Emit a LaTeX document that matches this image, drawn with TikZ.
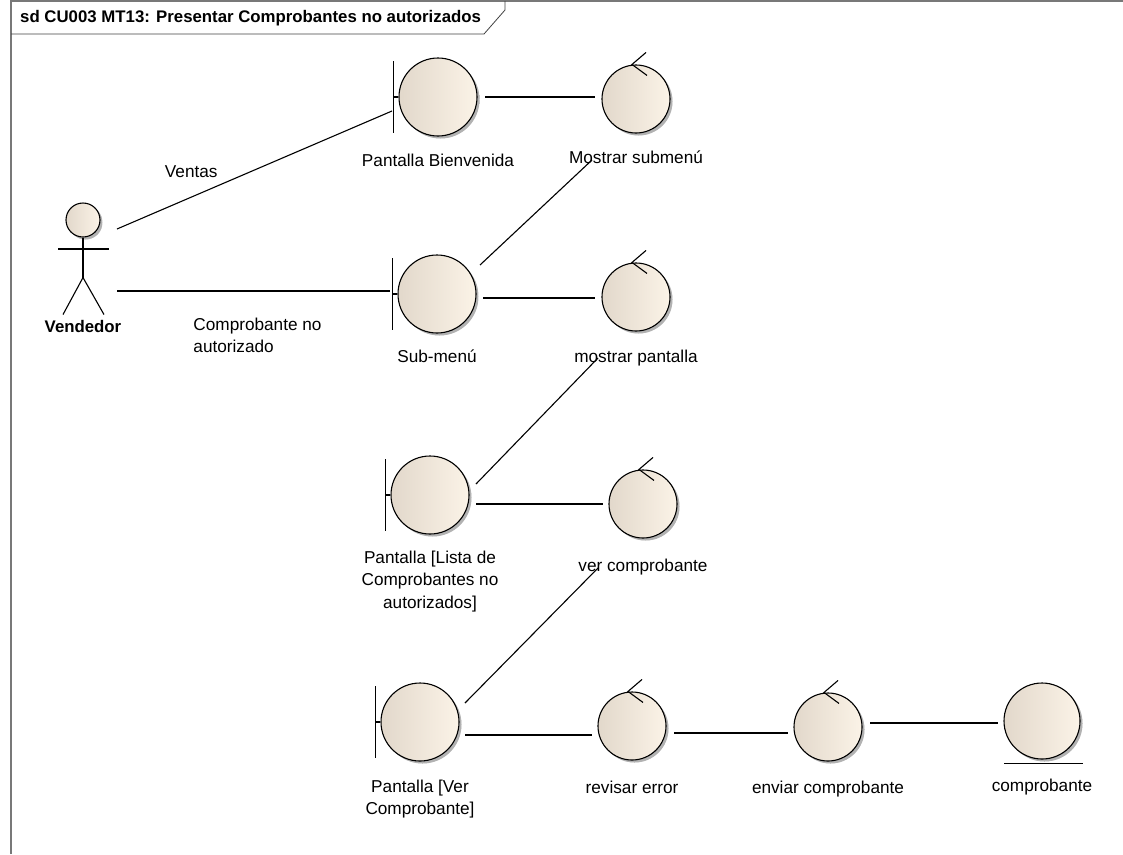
\documentclass[tikz,border=0pt]{standalone}
\usepackage{fontspec}
\setmainfont{Liberation Sans}
\usepackage{xcolor}
\usepackage{tikz}
\usetikzlibrary{positioning,calc,shadows}

\definecolor{umlleft}{RGB}{226,216,203}
\definecolor{umlright}{RGB}{251,243,231}
\definecolor{framegray}{RGB}{120,120,120}

\begin{document}
\begin{tikzpicture}[
  x=1pt, y=-1pt,
  font=\fontsize{17.2}{22.5}\selectfont,
  elem/.style={circle, draw, line width=1.1pt, inner sep=0pt, left color=umlleft, right color=umlright, drop shadow={shadow xshift=2.5pt, shadow yshift=-2.5pt, left color=black!35, right color=black!35}},
  bnd/.style={elem, minimum size=78pt},
  ctrl/.style={elem, minimum size=68pt},
  ent/.style={elem, minimum size=76pt},
  lbl/.style={inner sep=0pt, align=center},
  conn/.style={line width=1.1pt}
]
\useasboundingbox (0,0) rectangle (1123,854);

% frame
\draw[framegray, line width=1.5pt] (11,854) -- (11,1) -- (1123,1);
\node[anchor=west, inner sep=0pt, font=\bfseries\fontsize{16.8}{20}\selectfont] (title) at (20,18) {sd CU003 MT13: Presentar Comprobantes no autorizados};
\draw[line width=0.8pt, black!75] (11,34) -- (484,34) -- (505,10) -- (505,1);

% actor
\node[elem, minimum size=34pt] (vhead) at (83,220) {};
\draw[conn] (vhead.south) -- ++(0,40) coordinate (hip);
\draw[conn] ($(vhead)+(-25,29)$) -- ++(51,0);
\draw[conn] ($(hip)+(-20,37)$) -- (hip) -- ($(hip)+(21,37)$);
\node[lbl, below=83pt of vhead, font=\bfseries\fontsize{16.8}{20}\selectfont] (vend) {Vendedor};

% boundaries
\node[bnd] (pb) at (438,97) {};
\node[lbl, below=17pt of pb] (pb-l) {Pantalla Bienvenida};

\node[bnd] (sm) at (437,294) {};
\node[lbl, below=16pt of sm] (sm-l) {Sub-menú};

\node[bnd] (pl) at (430,495) {};
\node[lbl, below=16pt of pl] (pl-l) {Pantalla [Lista de\\Comprobantes no\\autorizados]};

\node[bnd] (pv) at (420,722) {};
\node[lbl, below=18pt of pv] (pv-l) {Pantalla [Ver\\Comprobante]};

\foreach \b in {pb,sm,pl,pv} {
  \draw[conn] (\b.west) ++(-5,-36) -- ++(0,72);
  \draw[conn] (\b.west) ++(-5,0) -- (\b.west);
}

% controls
\node[ctrl] (ms) at (636,99) {};
\node[lbl, below=17pt of ms] (ms-l) {Mostrar submenú};

\node[ctrl] (mp) at (636,297) {};
\node[lbl, below=18pt of mp] (mp-l) {mostrar pantalla};

\node[ctrl] (vc) at (643,504) {};
\node[lbl, below=20pt of vc] (vc-l) {ver comprobante};

\node[ctrl] (re) at (632,726) {};
\node[lbl, below=20pt of re] (re-l) {revisar error};

\node[ctrl] (ec) at (828,727) {};
\node[lbl, below=19pt of ec] (ec-l) {enviar comprobante};

\foreach \c in {ms,mp,vc,re,ec} {
  \draw[conn] (\c.north) ++(10,-12) -- ++(-14,12) -- ++(15,11);
}

% entity
\node[ent] (co) at (1042,721) {};
\draw[conn] ($(co.south)+(-38,4)$) -- ($(co.south)+(41,4)$);
\node[lbl, below=19pt of co] (co-l) {comprobante};

% connectors
\draw[conn] ($(vhead)+(34,9)$) -- node[pos=0.27, above=19pt, lbl] (ventas) {Ventas} ($(pb)+(-46,14)$);
\draw[conn] ($(vhead)+(34,71)$) -- node[pos=0.278, below=26pt, lbl, anchor=north west, align=left] (cna) {Comprobante no\\autorizado} ($(sm)+(-47,-3)$);
\draw[conn] ($(pb)+(47,0)$) -- ($(ms)+(-41,-2)$);
\draw[conn] ($(sm)+(43,-29)$) -- ($(ms)+(-44,61)$);
\draw[conn] ($(sm)+(46,4)$) -- ($(mp)+(-41,1)$);
\draw[conn] ($(pl)+(46,-11)$) -- ($(mp)+(-38,61)$);
\draw[conn] ($(pl)+(46,9)$) -- ($(vc)+(-40,0)$);
\draw[conn] ($(pv)+(45,-19)$) -- ($(vc)+(-45,64)$);
\draw[conn] ($(pv)+(45,13)$) -- ($(re)+(-40,9)$);
\draw[conn] ($(re)+(42,7)$) -- ($(ec)+(-40,6)$);
\draw[conn] ($(ec)+(42,-4)$) -- ($(co)+(-44,2)$);

\end{tikzpicture}
\end{document}
